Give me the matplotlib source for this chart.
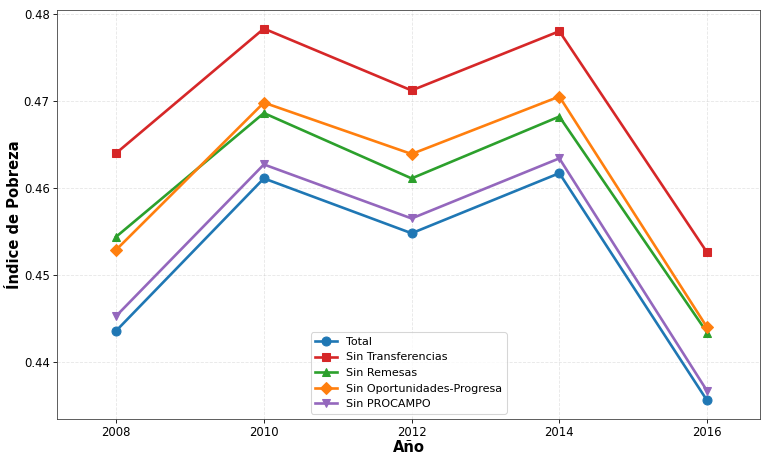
import matplotlib
matplotlib.use("Agg")
import matplotlib.pyplot as plt

years = [2008, 2010, 2012, 2014, 2016]
total = [0.4436, 0.4611, 0.4548, 0.4617, 0.4356]
sin_transferencias = [0.4640, 0.4783, 0.4712, 0.4780, 0.4526]
sin_remesas = [0.4544, 0.4686, 0.4611, 0.4682, 0.4434]
sin_oportunidades = [0.4529, 0.4698, 0.4639, 0.4705, 0.4440]
sin_procampo = [0.4453, 0.4627, 0.4565, 0.4634, 0.4367]

series = [
    ("Total", total, "#1f77b4", "o"),
    ("Sin Transferencias", sin_transferencias, "#d62728", "s"),
    ("Sin Remesas", sin_remesas, "#2ca02c", "^"),
    ("Sin Oportunidades-Progresa", sin_oportunidades, "#ff7f0e", "D"),
    ("Sin PROCAMPO", sin_procampo, "#9467bd", "v"),
]

dpi = 76
fig, ax = plt.subplots(figsize=(761 / dpi, 455 / dpi), dpi=dpi)
fig.subplots_adjust(left=0.075, right=0.999, top=0.978, bottom=0.079)

for label, vals, color, marker in series:
    ax.plot(years, vals, marker=marker, color=color, label=label,
            linewidth=2.5, markersize=8.5)

ax.set_xticks(years)
ax.set_xlim(2007.2, 2016.72)
ax.tick_params(labelsize=11)
ax.set_xlabel("Año", fontsize=14, fontweight="bold", labelpad=1)
ax.set_ylabel("Índice de Pobreza", fontsize=14, fontweight="bold", labelpad=2)
ax.grid(True, linestyle="--", alpha=0.3)
for sp in ax.spines.values():
    sp.set_color("#444444")
ax.legend(loc="lower center", fontsize=10.5)

fig.savefig("out.png", dpi=dpi)
